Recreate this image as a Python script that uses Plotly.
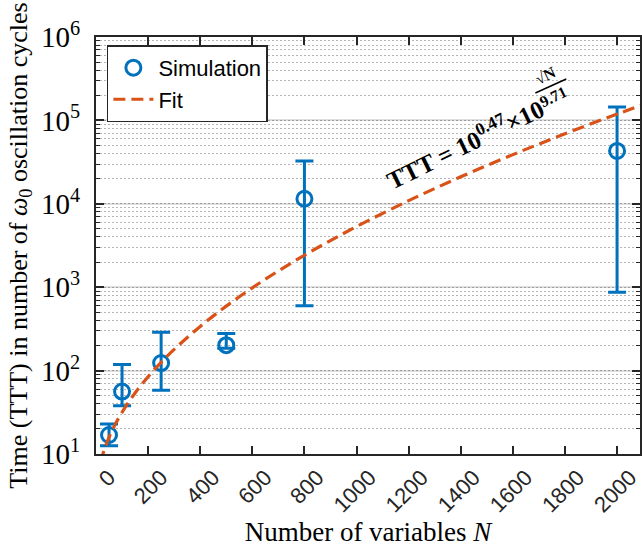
import plotly.graph_objects as go

# ---- data ----
N_sim = [50, 100, 250, 500, 800, 2000]
TTT_sim = [16.9, 56, 123, 202, 11500, 43000]
TTT_upper = [22.9, 118, 288, 279, 32500, 145000]
TTT_lower = [12.6, 38, 58, 185, 600, 870]

N_fit = [0, 10, 25, 50, 75, 100, 150, 200, 250, 300, 400, 500, 600, 700, 800,
         900, 1000, 1200, 1400, 1600, 1800, 2000, 2100]
TTT_fit = [2.95, 6.25, 9.66, 15.8, 23.0, 31.6, 53.9, 84.4, 125.5, 179.4, 338.6,
           592.8, 983, 1566, 2415, 3627, 5331, 10904, 21056, 38858, 69070,
           119070, 154700]

x_ticks = list(range(0, 2001, 200))
y_ticks = [1e1, 1e2, 1e3, 1e4, 1e5, 1e6]
y_ticktext = ["10<sup>%d</sup>" % e for e in range(1, 7)]

BLUE = "#0072BD"
ORANGE = "#D95319"
AX = "#262626"

err_plus = [u - v for u, v in zip(TTT_upper, TTT_sim)]
err_minus = [v - l for v, l in zip(TTT_sim, TTT_lower)]

fig = go.Figure()
fig.add_trace(go.Scatter(
    x=N_sim, y=TTT_sim, mode="markers", name="Simulation",
    marker=dict(symbol="circle-open", size=15, color=BLUE, line=dict(width=3, color=BLUE)),
    error_y=dict(type="data", symmetric=False, array=err_plus, arrayminus=err_minus,
                 color=BLUE, thickness=3, width=9),
))
fig.add_trace(go.Scatter(
    x=N_fit, y=TTT_fit, mode="lines", name="Fit", line_shape="spline",
    line=dict(color=ORANGE, width=3.2, dash="12px,6px"),
))

fig.update_layout(
    width=642, height=548, autosize=False,
    margin=dict(l=96, r=0, t=37, b=94),
    paper_bgcolor="white", plot_bgcolor="white",
    showlegend=True,
    legend=dict(x=0.02, y=0.98, xanchor="left", yanchor="top",
                bgcolor="white", bordercolor=AX, borderwidth=1.5,
                font=dict(family="Liberation Sans", size=22, color="black"),
                tracegroupgap=0, itemwidth=40),
    xaxis=dict(
        range=[0, 2088], tickvals=x_ticks, tickangle=-45,
        ticks="inside", ticklen=8, tickwidth=1.5, tickcolor=AX,
        showline=True, linewidth=2, linecolor=AX, mirror="allticks",
        showgrid=False, zeroline=False,
        ticklabelshift=13, ticklabelstandoff=0, ticklabeloverflow="allow",
        tickfont=dict(family="Liberation Sans", size=22, color=AX),
        title=dict(text="Number of variables <i>N</i>", standoff=6,
                   font=dict(family="Liberation Serif", size=27, color="black")),
    ),
    yaxis=dict(
        type="log", range=[1, 6], tickvals=y_ticks, ticktext=y_ticktext,
        ticks="inside", ticklen=8, tickwidth=1.5, tickcolor=AX,
        showline=True, linewidth=2, linecolor=AX, mirror="allticks",
        showgrid=True, gridcolor="rgba(0,0,0,0.13)", gridwidth=2, zeroline=False,
        ticklabelstandoff=8,
        tickfont=dict(family="Liberation Serif", size=29, color="black"),
        minor=dict(dtick="D1", ticks="inside", ticklen=4, tickcolor=AX, tickwidth=1.2,
                   showgrid=True, gridcolor="#b5b5b5", griddash="2px,2px", gridwidth=1.3),
        title=dict(text="Time (TTT) in number of <i>ω</i><sub>0</sub> oscillation cycles",
                   standoff=6,
                   font=dict(family="Liberation Serif", size=26, color="black")),
    ),
)

# annotation: TTT = 10^0.47 x 10^(sqrt(N)/9.71)
def px_to_paper(px, py):
    return (px - 96) / 546.0, (454 - py) / 417.0

def note(px, py, text, size):
    x, y = px_to_paper(px, py)
    fig.add_annotation(x=x, y=y, xref="paper", yref="paper", showarrow=False,
                       xanchor="center", yanchor="middle",
                       text=text, textangle=-26,
                       font=dict(family="Liberation Serif", size=size, color="black"))

note(466, 143, "<b>TTT = 10<sup>0.47</sup>×10</b>", 25)
note(547, 75, "<b>√N</b>", 16)
note(555, 96, "<b>9.71</b>", 16)
l0x, l0y = px_to_paper(537, 93)
l1x, l1y = px_to_paper(568, 79)
fig.add_shape(type="line", xref="paper", yref="paper", x0=l0x, y0=l0y, x1=l1x, y1=l1y,
              line=dict(color="black", width=1.5))

fig.write_html("out.html")
